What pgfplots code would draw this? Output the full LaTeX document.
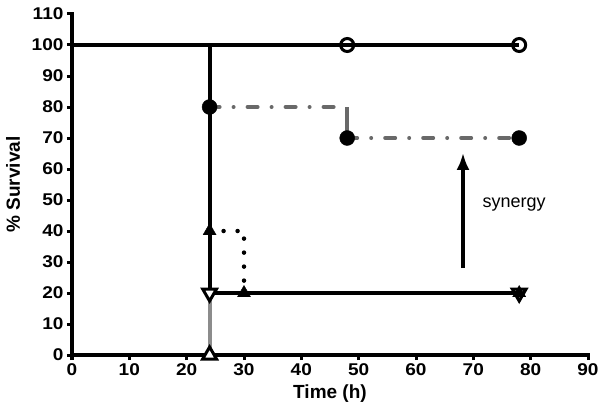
\documentclass[border=0pt]{standalone}
\usepackage{fontspec}
\setmainfont{Liberation Sans}
\usepackage{pgfplots}
\pgfplotsset{compat=1.18}
\usetikzlibrary{arrows.meta}
\definecolor{dashgray}{RGB}{105,105,105}
\definecolor{lightgray}{RGB}{140,140,140}
\begin{document}
\begin{tikzpicture}
\begin{axis}[
  scale only axis, width=516pt, height=341pt,
  xmin=0, xmax=90, ymin=0, ymax=110,
  axis lines=left, axis line style={-, line width=4.5pt, line cap=rect},
  xtick={0,10,...,90}, ytick={0,10,...,110},
  tick align=outside, major tick length=5pt,
  tick style={line width=3pt, black},
  /pgf/number format/assume math mode=true,
  ticklabel style={font=\fontsize{17}{19}\selectfont\bfseries},
  xticklabel={\scalebox{1.12}[1]{\pgfmathprintnumber{\tick}}},
  yticklabel={\scalebox{1.12}[1]{\pgfmathprintnumber{\tick}}},
  xlabel={Time (h)}, ylabel={\% Survival},
  label style={font=\fontsize{19}{21}\selectfont\bfseries},
  xlabel style={at={(axis description cs:0.5,-0.114)}, anchor=center},
  ylabel style={at={(axis description cs:-0.114,0.5)}, anchor=center},
  clip=false,
]
\coordinate (sw) at (rel axis cs:0,0);
\coordinate (ne) at (rel axis cs:1,1);
% open up triangle group (drops to 0)
\addplot[lightgray, line width=4pt] coordinates {(0,100) (24,100) (24,0)};
% dash-dot group
\addplot[dashgray, line width=4pt, line cap=round,
  dash pattern=on 10pt off 14pt on 0pt off 14pt]
  coordinates {(24,80) (48,80)};
\addplot[dashgray, line width=4pt] coordinates {(48,80) (48,70)};
\addplot[dashgray, line width=4pt, line cap=round,
  dash pattern=on 10pt off 14pt on 0pt off 14pt]
  coordinates {(48,70) (78,70)};
% dotted group
\addplot[black, line width=4.5pt, line cap=round, dash pattern=on 0pt off 14pt]
  coordinates {(24,40) (30,40) (30,20)};
% solid black groups
\addplot[black, line width=4pt] coordinates {(0,100) (48,100) (78,100)};
\addplot[black, line width=4pt] coordinates {(0,100) (24,100) (24,20) (78,20)};
\addplot[black, line width=4pt] coordinates {(30,20) (78,20)};
% marks
\addplot[only marks, mark=*, mark size=7.5pt, black] coordinates {(24,80) (48,70) (78,70)};
\addplot[only marks, mark=o, mark size=6.5pt, black, line width=3pt,
  mark options={fill=white}] coordinates {(48,100) (78,100)};
\addplot[only marks, mark=triangle*, mark size=7.5pt, black] coordinates {(24,40) (30,20) (78,20)};
\addplot[only marks, mark=triangle*, mark size=8pt, black, line width=3pt,
  mark options={rotate=180, fill=white}] coordinates {(24,20)};
\addplot[only marks, mark=triangle, mark size=8pt, black, line width=3pt,
  mark options={rotate=180}] coordinates {(78,20)};
\addplot[only marks, mark=triangle*, mark size=8pt, black, line width=3pt,
  mark options={fill=white}] coordinates {(24,0)};
% synergy arrow
\addplot[black, line width=4pt, -{Latex[length=17pt, width=13pt]}]
  coordinates {(68.2,28) (68.2,65.2)};
\node[anchor=base west, font=\fontsize{18}{20}\selectfont] at (axis cs:71,47.5) {synergy};
\end{axis}
\pgfresetboundingbox
\path ([xshift=-72pt,yshift=-55pt]sw) rectangle ([xshift=12pt,yshift=14pt]ne);
\end{tikzpicture}
\end{document}
